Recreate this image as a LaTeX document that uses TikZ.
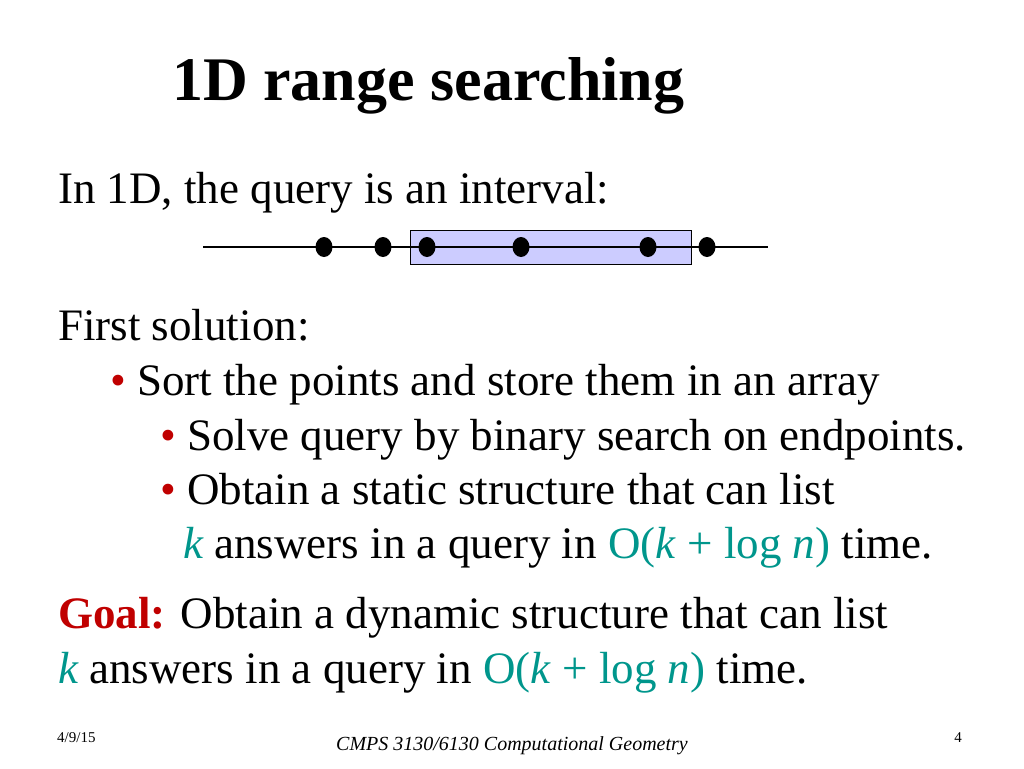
\documentclass[tikz,border=0pt]{standalone}
\usepackage{fontspec}
\setmainfont{Liberation Serif}
\definecolor{goalred}{RGB}{192,0,0}
\definecolor{teal}{RGB}{0,150,140}
\definecolor{query}{RGB}{204,204,255}
\newcommand{\redbullet}{\textcolor{goalred}{\fontsize{45}{45}\selectfont\textbullet}}
\begin{document}
\begin{tikzpicture}
[x=1pt,y=-1pt,inner sep=0pt,
txt/.style={anchor=base west,font=\fontsize{45}{47}\selectfont},
foot/.style={font=\fontsize{15}{16}\selectfont}]
\useasboundingbox (0,0) rectangle (1024,768);
\node[anchor=base west,font=\bfseries\fontsize{62}{64}\selectfont] (title) at (172,100) {1D range searching};
\node[txt] (intro) at (58,203) {In 1D, the query is an interval:};
% the interval
\node[draw,thick,fill=query,minimum width=281pt,minimum height=34pt,anchor=north west] (box) at (410,230) {};
\coordinate (lstart) at (203,247);
\coordinate (lend) at (768,247);
\draw[line width=2.2pt] (lstart) -- (lend);
\foreach \px [count=\i] in {324,383,427,521,648,707}
  \fill (\px,247) ellipse (8.5pt and 10pt);
\node[txt] (first) at (58,340) {First solution:};
\node[txt] (b1) at (110,395) {\redbullet\ Sort the points and store them in an array};
\node[txt] (b2) at (160,450) {\redbullet\ Solve query by binary search on endpoints.};
\node[txt] (b3) at (160,504) {\redbullet\ Obtain a static structure that can list};
\node[txt] (b4) at (183,558) {\textcolor{teal}{\itshape k} answers in a query in \textcolor{teal}{O(\textit{k} + log \textit{n})} time.};
\node[txt] (goal) at (58,628) {\textcolor{goalred}{\bfseries Goal:} Obtain a dynamic structure that can list};
\node[txt] (goal2) at (58,683) {\textcolor{teal}{\itshape k} answers in a query in \textcolor{teal}{O(\textit{k} + log \textit{n})} time.};
\node[foot,anchor=base west] (date) at (57,742) {4/9/15};
\node[anchor=base,font=\itshape\fontsize{20}{21}\selectfont] (course) at (512,750) {CMPS 3130/6130 Computational Geometry};
\node[foot,anchor=base east] (page) at (962,742) {4};
\end{tikzpicture}
\end{document}
